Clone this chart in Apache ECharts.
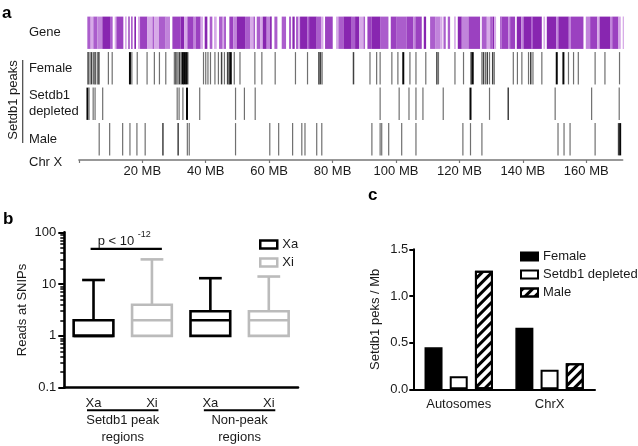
<!DOCTYPE html>
<html><head><meta charset="utf-8">
<script src="https://cdn.jsdelivr.net/npm/echarts@6/dist/echarts.min.js"></script>
<style>html,body{margin:0;padding:0;background:#fff}#c{width:638px;height:446px}</style>
</head><body><div id="c"></div>
<script>
// ===== Panel a: Setdb1 peaks along chromosome X =====
const chrXMaxMB = 171.5;
const mbInterval = 20;
const trackNames = ['Gene', 'Female', 'Setdb1\ndepleted', 'Male'];
// gene density segments: [startMB, endMB, density level]
const geneSegments = [
[2.66,3.71,2],[3.71,4.55,1],[4.55,5.82,2],[5.82,7.39,1.5],[7.39,9.81,3],[9.81,10.65,2],
[11.28,11.81,1],[11.81,14.02,2.5],
[14.54,15.07,1],[15.6,16.0,3],[16.44,16.96,2],[17.49,18.01,3],
[18.64,19.28,1],[19.28,21.59,2.5],[21.59,23.2,1],[23.2,23.7,2],[23.7,25.27,1],[25.27,27.37,2],[27.37,28.74,1.5],
[29.48,32.10,2.5],[32.10,33.16,3],[33.16,34.21,1],[34.21,36.2,2.5],[36.2,36.8,1.5],[36.8,38.41,2.5],[38.41,39.15,1],
[39.67,40.51,3],[41.25,42.09,2],[42.62,43.46,1],
[44.2,45.35,2],[45.35,45.77,1],[45.77,46.4,2],
[47.45,48.72,2.5],[48.72,49.77,1.5],[49.77,52.4,3],[52.4,53.97,2],[53.97,55.03,1],[55.03,55.55,2],
[56.08,57.13,2],[57.13,57.97,1],[57.97,59.23,3],[59.23,60.28,1.5],[60.28,60.81,3],
[61.65,62.6,2],[63.96,65.33,2],[66.28,66.91,2],[67.33,68.06,3],
[68.48,69.22,2],[69.22,69.75,1],[69.75,72.0,3],[72.0,72.6,2],[72.6,75.0,3],[75.0,76.37,2],[76.37,77.11,1],
[77.63,80.05,2.5],[81.1,81.84,1],[81.84,83.42,2],[83.42,86.04,3],[86.04,87.1,2],
[87.1,88.36,3],[88.36,89.73,1],[89.73,90.25,2],
[90.99,92.36,2.5],[92.36,94.99,3],[94.99,97.62,2],
[98.35,100.24,2.5],[100.24,103.4,2],[103.4,105.5,2.5],[105.5,106.1,1.5],[106.1,108.13,2.5],
[108.76,109.5,3],[110.76,112.34,2],[112.34,113.91,1.5],[113.91,114.65,1],
[114.97,115.7,2],[116.33,117.07,2],[118.33,118.86,1],
[119.49,120.75,3],[120.75,122.85,1.5],[122.85,126.53,2.5],
[127.06,128.64,2],[128.64,129.69,1],[129.69,130.52,2],[130.52,130.94,3],[130.94,131.57,1],
[132.83,133.36,2],[133.36,135.4,2.5],[135.4,136.0,1.5],[136.0,137.57,2.5],
[138.09,139.5,3],[139.5,140.2,1.5],[140.2,142.6,3],[142.6,143.2,2],[143.2,145.98,3],
[146.5,147.03,1],
[147.56,150.5,3],[150.5,151.2,1.5],[151.2,154.5,3],[154.5,155.2,1.5],[155.2,159.12,2.5],
[159.86,161.23,1.5],[161.23,163.5,2.5],[163.5,164.2,1],[164.2,167.5,3],[167.5,168.2,1.5],[168.2,170.16,2.5],
[170.16,170.9,1],[171.5,171.9,1]
];
// peaks: [positionMB, signal strength 1..3]
const femalePeaks = [
[2.9,2],[3.5,1],[4.0,2],[4.6,1],[5.1,2],[5.8,1],[6.3,2],[9.3,1],[10.5,1],
[16.1,3],[16.7,1],[18.4,1],[21.5,1],[23.8,1],[25.4,1],[27.4,1],
[30.1,1],[30.6,2],[31.2,1],[31.7,2],[32.2,1],[32.7,3],[33.2,3],[33.8,3],[34.3,2],
[39.3,1],[40.0,1],[40.7,1],[41.5,1],[42.9,1],[44.0,1],[45.0,2],[45.9,1],[46.9,2],[47.4,2],[47.9,3],[49.0,1],[50.8,1],
[55.5,1],[57.7,1],[61.9,1],[68.3,1],[72.1,1],[75.7,2],[76.2,2],[76.7,1],[86.6,2],
[91.8,1],[93.9,1],[95.0,1],[98.7,1],[100.6,1],[102.3,3],[104.4,1],[106.3,1],[109.4,1],[112.9,2],[113.4,1],
[118.6,1],[121.3,1],[123.7,2],[124.2,3],[127.1,1],[127.6,2],[128.2,1],[128.8,2],[129.5,1],[130.5,2],[131.0,1],
[137.0,1],[138.3,1],[139.7,1],[141.8,1],[142.5,2],[143.2,1],[146.0,1],[150.7,3],[152.8,3],[154.4,1],[156.0,1],[157.5,1],
[162.8,1],[165.9,1],[170.5,1]
];
const depletedPeaks = [
[2.7,3],[3.2,1],[4.5,1],[5.1,1],[7.5,1],[31.0,1],[31.6,1],[32.8,1],[34.1,3],[38.1,1],
[49.4,1],[52.2,1],[55.6,1],[95.0,1],[101.0,1],[104.1,1],[106.3,1],[108.5,1],[114.9,1],
[123.5,3],[129.5,1],[135.4,2],[150.2,1],[161.7,1],[170.4,1]
];
const malePeaks = [
[6.4,1],[9.7,1],[13.8,1],[16.1,1],[18.3,1],[20.9,1],[26.5,2],[31.3,2],[34.2,1],[34.8,1],
[49.4,1],[60.2,1],[63.0,1],[67.4,1],[70.3,1],[71.3,1],[75.0,1],[76.6,1],
[92.4,1],[95.0,1],[95.5,1],[97.7,1],[101.8,1],[106.3,1],[121.1,1],[123.5,1],[127.1,1],
[151.1,1],[153.0,1],[154.9,1],[162.8,1],[170.2,2],[170.7,3]
];

// ===== Panel b: reads at SNPs (box plots) =====
const alleleCats = ['Xa', 'Xi', 'Xa', 'Xi'];
const regionGroups = ['Setdb1 peak\nregions', 'Non-peak\nregions'];
// [categoryIndex, min, Q1, median, Q3, max]
const xaBoxes = [[0, 1, 1, 1, 2, 12], [2, 1, 1, 2, 3, 13]];
const xiBoxes = [[1, 1, 1, 2, 4, 30], [3, 1, 1, 2, 3, 14]];
const groupSpans = [[0, 1], [2, 3]];
const significance = [[0, 1, 48]]; // compared categories, bracket height
const pLabel = '-12';

// ===== Panel c: Setdb1 peaks per Mb =====
const chromCats = ['Autosomes', 'ChrX'];
const femaleRate = [0.45, 0.66];
const depletedRate = [0.14, 0.21];
const maleRate = [1.27, 0.28];

const FONT = 'Liberation Sans, Arial, sans-serif';
const geneColors = {1: '#d7aae8', 1.5: '#c184db', 2: '#ab5dcc', 2.5: '#9b41c0', 3: '#8826b0'};
const peakStyle = {1: ['#707070', 1.2], 2: ['#404040', 1.5], 3: ['#080808', 2.0]};

function trackRow(name) { return trackNames.indexOf(name); }

function peakSeries(peaks, row) {
  return {
    type: 'custom', xAxisIndex: 0, yAxisIndex: 0, silent: true,
    data: peaks.map(p => [p[0], row, p[1]]),
    encode: {x: 0, y: 1},
    renderItem: function (params, api) {
      const p = api.coord([api.value(0), api.value(1)]);
      const h = api.size([0, 1])[1] * 0.91;
      const st = peakStyle[api.value(2)];
      return {type: 'line', shape: {x1: p[0], y1: p[1] - h / 2, x2: p[0], y2: p[1] + h / 2},
        style: {stroke: st[0], lineWidth: st[1]}};
    }
  };
}

function boxSeries(name, boxes, color) {
  return {
    type: 'custom', name: name, xAxisIndex: 1, yAxisIndex: 1, silent: true,
    itemStyle: {color: '#fff', borderColor: color},
    data: boxes,
    encode: {x: 0, y: [1, 2, 3, 4, 5]},
    renderItem: function (params, api) {
      const c = api.value(0);
      const pMin = api.coord([c, api.value(1)]);
      const pQ1 = api.coord([c, api.value(2)]);
      const pMed = api.coord([c, api.value(3)]);
      const pQ3 = api.coord([c, api.value(4)]);
      const pMax = api.coord([c, api.value(5)]);
      const band = api.size([1, 1])[0];
      const bw = band * 0.68, cw = band * 0.39;
      const x = pQ1[0];
      const st = {stroke: color, lineWidth: 2.6, fill: null};
      return {type: 'group', children: [
        {type: 'line', shape: {x1: x, y1: pQ3[1], x2: x, y2: pMax[1]}, style: st},
        {type: 'line', shape: {x1: x - cw / 2, y1: pMax[1], x2: x + cw / 2, y2: pMax[1]}, style: st},
        {type: 'line', shape: {x1: x, y1: pQ1[1], x2: x, y2: pMin[1]}, style: st},
        {type: 'rect', shape: {x: x - bw / 2, y: pQ3[1], width: bw, height: pQ1[1] - pQ3[1]}, style: {stroke: color, lineWidth: 2.6, fill: '#fff'}},
        {type: 'line', shape: {x1: x - bw / 2, y1: pMed[1], x2: x + bw / 2, y2: pMed[1]}, style: st}
      ]};
    }
  };
}

const option = {
  animation: false,
  textStyle: {fontFamily: FONT, color: '#1a1a1a'},
  grid: [
    {left: 78.9, right: 15.3, top: 15, bottom: 289},
    {left: 64.3, right: 340, top: 232.3, bottom: 58.3},
    {left: 413.3, right: 43, top: 249.3, bottom: 56.7}
  ],
  xAxis: [
    {gridIndex: 0, type: 'value', min: 0, max: chrXMaxMB, interval: mbInterval, offset: 3,
      axisLine: {show: true, onZero: false, lineStyle: {color: '#777', width: 1.5}},
      axisTick: {show: true, length: 3, lineStyle: {color: '#777', width: 1.2}},
      splitLine: {show: false},
      axisLabel: {fontSize: 13, color: '#1a1a1a', margin: 5, showMaxLabel: false,
        formatter: v => v === 0 ? '' : v + ' MB'}},
    {gridIndex: 1, type: 'category', data: alleleCats,
      axisLine: {onZero: false, lineStyle: {color: '#000', width: 2.6}}, axisTick: {show: false},
      axisLabel: {fontSize: 13, color: '#1a1a1a', margin: 9}},
    {gridIndex: 1, type: 'category', data: regionGroups, position: 'bottom',
      axisLine: {show: false}, axisTick: {show: false},
      axisLabel: {fontSize: 13, color: '#1a1a1a', margin: 24, lineHeight: 17}},
    {gridIndex: 2, type: 'category', data: chromCats,
      axisLine: {onZero: false, lineStyle: {color: '#000', width: 2}},
      axisTick: {length: 4, alignWithLabel: true, lineStyle: {color: '#000', width: 2}},
      axisLabel: {fontSize: 13, color: '#1a1a1a', margin: 9}}
  ],
  yAxis: [
    {gridIndex: 0, type: 'category', data: trackNames, inverse: true,
      axisLine: {show: false}, axisTick: {show: false},
      axisLabel: {fontSize: 13, color: '#1a1a1a', align: 'left', margin: 50, lineHeight: 16}},
    {gridIndex: 1, type: 'log', logBase: 10, min: 0.1, max: 100,
      name: 'Reads at SNIPs', nameLocation: 'middle', nameGap: 35,
      nameTextStyle: {fontSize: 13, color: '#1a1a1a'},
      axisLine: {show: true, lineStyle: {color: '#000', width: 2.6}},
      axisTick: {show: true, length: 6, lineStyle: {color: '#000', width: 2}},
      minorTick: {show: true, splitNumber: 9, length: 4, lineStyle: {color: '#000', width: 1.5}},
      splitLine: {show: false},
      axisLabel: {fontSize: 13, color: '#1a1a1a', margin: 8, formatter: v => String(v)}},
    {gridIndex: 2, type: 'value', min: 0, max: 1.5, interval: 0.5,
      name: 'Setdb1 peks / Mb', nameLocation: 'middle', nameGap: 31,
      nameTextStyle: {fontSize: 13, color: '#1a1a1a'},
      axisLine: {show: true, lineStyle: {color: '#000', width: 2}},
      axisTick: {show: true, length: 4, lineStyle: {color: '#000', width: 2}},
      splitLine: {show: false},
      axisLabel: {fontSize: 13, color: '#1a1a1a', margin: 5, formatter: v => v.toFixed(1)}}
  ],
  legend: [
    {orient: 'vertical', left: 254, top: 233, itemWidth: 17, itemHeight: 8, itemGap: 5,
      selectedMode: false, textStyle: {fontSize: 13, color: '#1a1a1a', fontFamily: FONT},
      data: [
        {name: 'Xa', icon: 'rect', itemStyle: {color: '#fff', borderColor: '#000', borderWidth: 2.5}},
        {name: 'Xi', icon: 'rect', itemStyle: {color: '#fff', borderColor: '#bbb', borderWidth: 2.5}}
      ]},
    {orient: 'vertical', left: 515, top: 245, itemWidth: 17, itemHeight: 8, itemGap: 5, icon: 'rect',
      selectedMode: false, textStyle: {fontSize: 13, color: '#1a1a1a', fontFamily: FONT},
      data: ['Female', 'Setdb1 depleted', 'Male']}
  ],
  graphic: [
    {type: 'text', left: 2, top: 5, style: {text: 'a', font: 'bold 17px ' + FONT, fill: '#000'}},
    {type: 'text', left: 3, top: 211, style: {text: 'b', font: 'bold 17px ' + FONT, fill: '#000'}},
    {type: 'text', left: 368, top: 187, style: {text: 'c', font: 'bold 17px ' + FONT, fill: '#000'}},
    {type: 'text', x: 29, y: 162, style: {text: 'Chr X', font: '13px ' + FONT, fill: '#1a1a1a', verticalAlign: 'middle'}},
    {type: 'text', x: 13, y: 100, rotation: Math.PI / 2,
      style: {text: 'Setdb1 peaks', font: '13px ' + FONT, fill: '#1a1a1a', align: 'center', verticalAlign: 'middle'}},
    {type: 'line', shape: {x1: 22.7, y1: 60, x2: 22.7, y2: 143}, style: {stroke: '#444', lineWidth: 1.2}}
  ],
  series: [
    {
      type: 'custom', xAxisIndex: 0, yAxisIndex: 0, silent: true,
      data: geneSegments.map(s => [s[0], s[1], trackRow('Gene'), s[2]]),
      encode: {x: [0, 1], y: 2},
      renderItem: function (params, api) {
        const a = api.coord([api.value(0), api.value(2)]);
        const b = api.coord([api.value(1), api.value(2)]);
        const h = api.size([0, 1])[1] * 0.91;
        return {type: 'rect', shape: {x: a[0], y: a[1] - h / 2, width: Math.max(b[0] - a[0], 1), height: h},
          style: {fill: geneColors[api.value(3)]}};
      }
    },
    peakSeries(femalePeaks, trackRow('Female')),
    peakSeries(depletedPeaks, trackRow('Setdb1\ndepleted')),
    peakSeries(malePeaks, trackRow('Male')),
    boxSeries('Xa', xaBoxes, '#000'),
    boxSeries('Xi', xiBoxes, '#bbbbbb'),
    {
      type: 'custom', xAxisIndex: 1, yAxisIndex: 1, silent: true,
      data: groupSpans, encode: {x: [0, 1]},
      renderItem: function (params, api) {
        const a = api.coord([api.value(0), 0.1]);
        const b = api.coord([api.value(1), 0.1]);
        const y = a[1] + 22.5;
        return {type: 'line', shape: {x1: a[0] - 6.5, y1: y, x2: b[0] + 6.5, y2: y},
          style: {stroke: '#000', lineWidth: 2}};
      }
    },
    {
      type: 'custom', xAxisIndex: 1, yAxisIndex: 1, silent: true,
      data: significance, encode: {x: [0, 1], y: 2},
      renderItem: function (params, api) {
        const a = api.coord([api.value(0), api.value(2)]);
        const b = api.coord([api.value(1), api.value(2)]);
        const band = api.size([1, 1])[0];
        const x1 = a[0] - band * 0.05, x2 = b[0] + band * 0.17;
        return {type: 'group', children: [
          {type: 'line', shape: {x1: x1, y1: a[1], x2: x2, y2: a[1]}, style: {stroke: '#000', lineWidth: 2.2}},
          {type: 'text', x: (x1 + x2) / 2 - 2, y: a[1] - 1, style: {
            text: '{m|p < 10 }{s|' + pLabel + '}', align: 'center', verticalAlign: 'bottom',
            rich: {m: {fontSize: 13, fontFamily: FONT, fill: '#1a1a1a', lineHeight: 18, verticalAlign: 'bottom'},
                   s: {fontSize: 9, fontFamily: FONT, fill: '#1a1a1a', lineHeight: 18, verticalAlign: 'top'}}}}
        ]};
      }
    },
    {type: 'bar', name: 'Female', xAxisIndex: 3, yAxisIndex: 2, data: femaleRate, barWidth: 18, barGap: '40%',
      itemStyle: {color: '#000', borderColor: '#000', borderWidth: 1.5}},
    {type: 'bar', name: 'Setdb1 depleted', xAxisIndex: 3, yAxisIndex: 2, data: depletedRate, barWidth: 18, barGap: '40%',
      itemStyle: {color: '#fff', borderColor: '#000', borderWidth: 2}},
    {type: 'bar', name: 'Male', xAxisIndex: 3, yAxisIndex: 2, data: maleRate, barWidth: 18, barGap: '40%',
      itemStyle: {color: '#fff', borderColor: '#000', borderWidth: 2,
        decal: {symbol: 'rect', symbolSize: 1, color: '#000', dashArrayX: [1, 0], dashArrayY: [3, 4], rotation: -Math.PI / 4}}}
  ]
};

const chart = echarts.init(document.getElementById('c'), null, {renderer: 'canvas'});
chart.setOption(option);
</script>
</body></html>
